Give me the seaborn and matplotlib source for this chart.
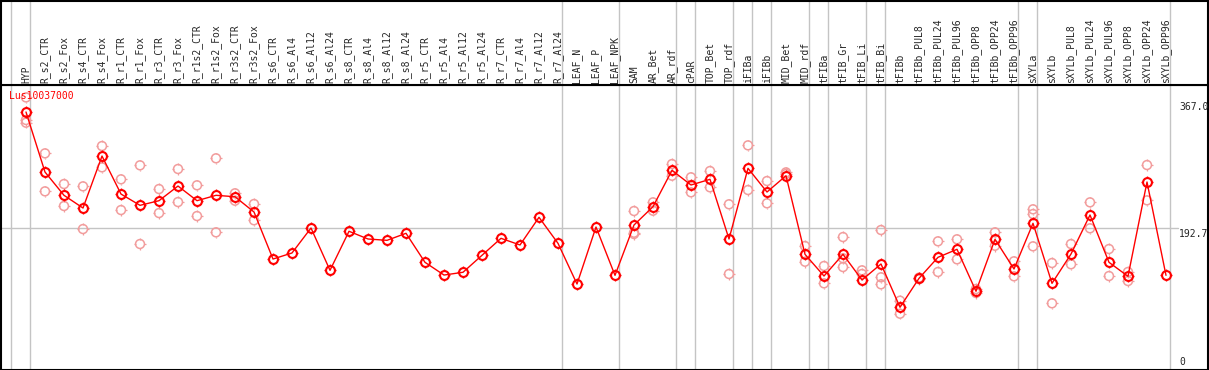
import numpy as np
import pandas as pd
import seaborn as sns
import matplotlib.pyplot as plt
from matplotlib.path import Path

# sample names (x axis), mean expression and visible replicates
samples = ['HYP', 'R_s2_CTR', 'R_s2_Fox', 'R_s4_CTR', 'R_s4_Fox', 'R_r1_CTR', 'R_r1_Fox',
           'R_r3_CTR', 'R_r3_Fox', 'R_r1s2_CTR', 'R_r1s2_Fox', 'R_r3s2_CTR', 'R_r3s2_Fox',
           'R_s6_CTR', 'R_s6_Al4', 'R_s6_Al12', 'R_s6_Al24', 'R_s8_CTR', 'R_s8_Al4', 'R_s8_Al12',
           'R_s8_Al24', 'R_r5_CTR', 'R_r5_Al4', 'R_r5_Al12', 'R_r5_Al24', 'R_r7_CTR', 'R_r7_Al4',
           'R_r7_Al12', 'R_r7_Al24', 'LEAF_N', 'LEAF_P', 'LEAF_NPK', 'SAM', 'AR_Bet', 'AR_rdf',
           'cPAR', 'TOP_Bet', 'TOP_rdf', 'iFIBa', 'iFIBb', 'MID_Bet', 'MID_rdf', 'tFIBa',
           'tFIB_Gr', 'tFIB_Li', 'tFIB_Bi', 'tFIBb', 'tFIBb_PUL8', 'tFIBb_PUL24', 'tFIBb_PUL96',
           'tFIBb_OPP8', 'tFIBb_OPP24', 'tFIBb_OPP96', 'sXYLa', 'sXYLb', 'sXYLb_PUL8',
           'sXYLb_PUL24', 'sXYLb_PUL96', 'sXYLb_OPP8', 'sXYLb_OPP24', 'sXYLb_OPP96']

means = [347.5, 267.2, 236.1, 219.1, 288.6, 237.8, 222.7, 228.9, 248.5, 228.9, 236.1, 234.2,
         213.8, 150.9, 159.0, 192.4, 135.8, 188.0, 177.7, 175.9, 185.3, 146.5, 129.5, 133.2,
         155.9, 178.6, 169.7, 206.7, 171.9, 117.5, 193.7, 129.1, 196.4, 220.9, 269.5, 249.9,
         257.5, 177.7, 272.2, 240.5, 262.3, 157.2, 128.2, 157.2, 122.9, 144.3, 86.4, 125.1,
         153.2, 163.9, 107.8, 177.3, 137.6, 198.7, 118.4, 157.6, 209.8, 146.5, 127.8, 253.9,
         129.1]

reps = [[367.0, 336.8, 333.2], [292.2, 241.4], [251.2, 221.8], [248.1, 191.0],
        [302.0, 273.5], [257.5, 216.4], [276.2, 171.0], [244.5, 212.4], [271.3, 227.1],
        [249.5, 208.4], [285.6, 186.6], [238.8, 228.9], [224.5, 202.7],
        [], [], [], [], [], [], [], [], [], [], [], [], [], [], [], [],
        [], [], [],
        [215.1, 186.1, 184.4], [226.7, 215.5], [277.9, 262.3], [260.2, 240.1],
        [268.6, 246.8], [224.1, 130.9], [302.9, 243.2], [255.2, 225.4], [266.8, 264.6],
        [168.3, 147.3], [141.6, 118.4], [180.3, 151.9, 140.2], [135.8, 130.9],
        [189.7, 126.5, 117.1], [95.2, 77.8], [126.0, 124.2], [174.6, 133.6],
        [177.3, 150.5], [110.8, 105.5], [186.6, 168.7], [147.9, 127.8],
        [217.4, 211.1, 167.9], [145.6, 91.7], [171.0, 143.9], [226.7, 192.0],
        [164.3, 128.2], [133.6, 121.5], [276.6, 229.4], []]

# vertical separators sit just after these sample indices
group_ends = [-1, 0, 28, 31, 34, 35, 37, 38, 39, 41, 42, 44, 45, 52, 53, 60]
gene = 'Lus10037000'
ref_value = 192.7
max_value = 367.0

df = pd.DataFrame({'pos': np.arange(len(samples)), 'sample': samples, 'mean': means})
rep_df = pd.DataFrame([(i, v) for i, vals in enumerate(reps) for v in vals],
                      columns=['pos', 'value'])

sns.set_style('white')
plt.rcParams['font.family'] = ['DejaVu Sans Mono']

# four little ticks around each circle marker
ticks = Path([(0, 1), (0, 1.3), (1, 0), (1.3, 0), (0, -1), (0, -1.3), (-1, 0), (-1.3, 0)],
             [Path.MOVETO, Path.LINETO] * 4)

W, H = 1209, 370
fig = plt.figure(figsize=(W / 100, H / 100), dpi=100)
L, R, top_lab, sep, bot = 1, 1208, 0.5, 85, 369.5
ax = fig.add_axes([L / W, (H - bot) / H, (R - L) / W, (bot - sep) / H])
lab = fig.add_axes([L / W, (H - sep) / H, (R - L) / W, (sep - top_lab) / H])

xlim = ((L - 26) / 19, (R - 26) / 19)
for a in (ax, lab):
    a.set_xlim(*xlim)
    a.set_xticks([])
    a.set_yticks([])
    for s in a.spines.values():
        s.set_color('black')
        s.set_linewidth(1.5)
    for g in group_ends:
        a.axvline(g + 0.22, color='#c4c4c4', lw=1.0, zorder=0)
lab.set_ylim(0, 1)
ax.set_ylim(3.2, 383.6)

ax.axhline(ref_value, xmax=0.975, color='#c4c4c4', lw=1.0, zorder=0)

pink = '#f29c9c'
circ = 6.4
sns.scatterplot(data=rep_df, x='pos', y='value', marker='o', s=circ ** 2, color=pink,
                facecolor='none', edgecolor=pink, linewidth=1.1, ax=ax, zorder=2)
sns.scatterplot(data=rep_df, x='pos', y='value', marker=ticks, s=(circ * 1.3) ** 2,
                color=pink, facecolor='none', edgecolor=pink, linewidth=0.9, ax=ax, zorder=2)
sns.lineplot(data=df, x='pos', y='mean', color='red', lw=1.0, marker='o',
             markersize=circ, markerfacecolor='none', markeredgecolor='red',
             markeredgewidth=1.5, ax=ax, zorder=3)
sns.lineplot(data=df, x='pos', y='mean', color='red', linestyle='none', marker=ticks,
             markersize=circ * 1.3, markerfacecolor='none', markeredgecolor='red',
             markeredgewidth=1.0, ax=ax, zorder=3)
ax.set_xlabel('')
ax.set_ylabel('')

for i, name in enumerate(samples):
    lab.text(i, 2 / 85, name, rotation=90, ha='center', va='bottom', fontsize=7,
             transform=lab.get_xaxis_transform())

xr = 0.976
ax.annotate(f'{max_value:.1f}', xy=(xr, max_value), xycoords=ax.get_yaxis_transform(),
            xytext=(0, -5), textcoords='offset pixels', ha='left', va='top', fontsize=7)
ax.annotate(f'{ref_value:.1f}', xy=(xr, ref_value), xycoords=ax.get_yaxis_transform(),
            xytext=(0, -1), textcoords='offset pixels', ha='left', va='top', fontsize=7)
ax.annotate('0', xy=(xr, 0), xycoords=ax.get_yaxis_transform(),
            xytext=(0, 5), textcoords='offset pixels', ha='left', va='bottom', fontsize=7)

ax.text(8 / (R - L), 0.978, gene, color='red', ha='left', va='top', fontsize=7,
        transform=ax.transAxes)

fig.savefig('out.png', dpi=100)
